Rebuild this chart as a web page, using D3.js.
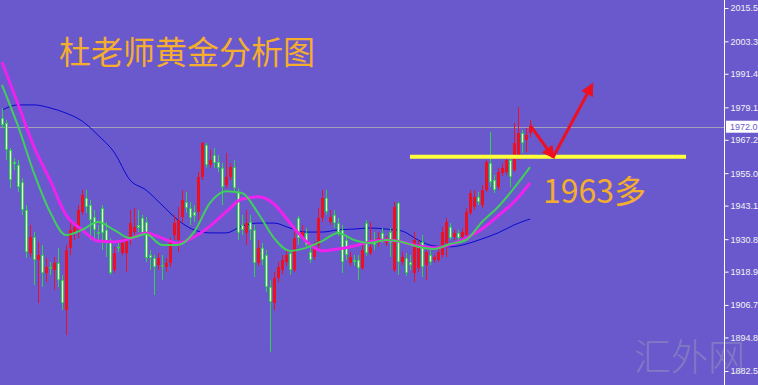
<!DOCTYPE html>
<html>
<head>
<meta charset="utf-8">
<script src="https://cdn.jsdelivr.net/npm/d3@7"></script>
<style>
  html, body { margin: 0; padding: 0; background: #6a59cc; }
  svg { display: block; }
</style>
</head>
<body>
<script>
// candle data, one row per bar: [open, high, low, close]
const ohlc = [
  [1975.2, 1978.8, 1971.5, 1972.6], [1973.4, 1974.5, 1959.8, 1963.5], [1963.5, 1964.2, 1949.5, 1952.5],
  [1959.1, 1960.5, 1956.1, 1958.3], [1958.0, 1959.8, 1948.1, 1949.9], [1951.7, 1953.2, 1939.7, 1941.5],
  [1941.5, 1943.3, 1923.9, 1926.1], [1925.7, 1936.0, 1924.3, 1931.6], [1931.6, 1933.4, 1914.0, 1923.2],
  [1923.2, 1929.8, 1907.4, 1925.0], [1925.0, 1928.7, 1913.3, 1918.4], [1918.4, 1923.9, 1915.1, 1920.6],
  [1920.6, 1922.4, 1917.7, 1920.2], [1919.5, 1924.3, 1912.2, 1922.1], [1922.1, 1927.6, 1913.3, 1915.8],
  [1915.8, 1917.7, 1904.8, 1907.4], [1904.8, 1928.7, 1895.7, 1926.8], [1927.6, 1937.1, 1925.0, 1934.2],
  [1933.1, 1937.1, 1930.5, 1935.3], [1934.2, 1943.3, 1931.2, 1941.5], [1940.8, 1948.8, 1939.7, 1947.0],
  [1945.9, 1948.8, 1940.4, 1942.6], [1943.3, 1945.2, 1930.5, 1937.8], [1938.9, 1941.5, 1930.5, 1934.2],
  [1933.4, 1936.0, 1930.5, 1932.7], [1942.2, 1943.3, 1926.8, 1933.1], [1934.2, 1937.1, 1924.3, 1929.8],
  [1929.8, 1931.2, 1917.7, 1918.4], [1919.5, 1928.0, 1918.4, 1925.7], [1928.0, 1929.4, 1926.1, 1927.6],
  [1925.7, 1931.2, 1925.0, 1929.4], [1925.7, 1932.0, 1918.8, 1930.5], [1930.5, 1941.5, 1928.7, 1936.7],
  [1933.4, 1942.2, 1932.3, 1935.3], [1936.0, 1941.5, 1933.4, 1934.9], [1938.6, 1939.7, 1932.0, 1933.1],
  [1937.1, 1938.9, 1922.4, 1923.9], [1925.0, 1926.8, 1919.5, 1923.9], [1923.9, 1925.0, 1910.3, 1920.6],
  [1921.3, 1925.7, 1919.5, 1923.9], [1921.3, 1925.0, 1915.8, 1921.0], [1920.6, 1923.9, 1918.8, 1922.1],
  [1922.1, 1931.2, 1920.6, 1930.5], [1932.3, 1939.7, 1930.5, 1936.7], [1930.5, 1942.6, 1926.1, 1937.8],
  [1938.9, 1948.8, 1937.1, 1945.2], [1944.4, 1948.1, 1940.4, 1942.2], [1942.2, 1944.4, 1936.0, 1938.6],
  [1940.8, 1943.3, 1937.1, 1939.3], [1940.8, 1955.4, 1937.8, 1953.6], [1953.6, 1966.4, 1952.5, 1966.0],
  [1965.3, 1966.0, 1956.9, 1958.0], [1958.0, 1963.5, 1956.9, 1959.8], [1961.6, 1964.2, 1956.9, 1958.7],
  [1959.1, 1961.6, 1955.4, 1956.9], [1956.9, 1958.7, 1943.3, 1949.9], [1950.6, 1962.4, 1949.5, 1953.6],
  [1953.6, 1958.7, 1952.5, 1957.2], [1957.2, 1959.8, 1948.1, 1949.5], [1948.1, 1949.5, 1930.5, 1933.1],
  [1936.0, 1939.7, 1932.3, 1934.2], [1933.1, 1941.5, 1928.7, 1936.7], [1937.1, 1939.7, 1930.5, 1934.2],
  [1934.2, 1936.0, 1916.9, 1922.1], [1922.1, 1930.5, 1921.0, 1927.6], [1927.6, 1929.4, 1921.3, 1923.2],
  [1925.0, 1926.8, 1911.4, 1913.3], [1913.3, 1915.8, 1889.5, 1907.8], [1907.4, 1918.8, 1904.8, 1916.6],
  [1916.6, 1922.4, 1915.1, 1920.6], [1919.5, 1925.0, 1918.0, 1923.2], [1922.4, 1926.8, 1921.0, 1925.0],
  [1925.7, 1926.8, 1917.7, 1919.5], [1919.5, 1934.9, 1918.8, 1931.2], [1938.6, 1939.3, 1928.7, 1931.2],
  [1931.2, 1936.0, 1930.5, 1933.4], [1933.1, 1934.9, 1927.6, 1928.7], [1926.1, 1928.7, 1922.1, 1923.2],
  [1924.3, 1929.8, 1923.2, 1928.0], [1928.7, 1942.2, 1926.8, 1938.6], [1938.6, 1948.8, 1937.1, 1945.9],
  [1945.9, 1948.8, 1939.7, 1940.8], [1937.1, 1941.5, 1936.0, 1938.9], [1939.7, 1941.5, 1934.9, 1936.7],
  [1936.7, 1938.6, 1932.0, 1933.1], [1934.2, 1936.0, 1918.4, 1922.4], [1930.5, 1932.3, 1923.2, 1925.0],
  [1922.1, 1926.1, 1921.0, 1924.3], [1923.2, 1925.0, 1921.0, 1922.4], [1923.2, 1925.0, 1915.8, 1920.2],
  [1920.2, 1928.7, 1919.5, 1926.8], [1936.7, 1937.8, 1924.6, 1925.7], [1925.7, 1937.1, 1925.0, 1928.0],
  [1930.5, 1933.4, 1926.8, 1928.7], [1929.4, 1933.4, 1928.0, 1931.2], [1933.1, 1934.9, 1929.4, 1930.5],
  [1929.4, 1932.0, 1928.3, 1930.5], [1933.4, 1934.9, 1924.3, 1929.4], [1919.5, 1944.4, 1918.8, 1942.6],
  [1944.1, 1944.4, 1917.7, 1922.4], [1922.4, 1926.1, 1921.3, 1924.3], [1923.9, 1925.7, 1917.3, 1918.4],
  [1922.4, 1925.0, 1919.5, 1921.3], [1918.4, 1933.4, 1915.1, 1930.5], [1920.2, 1930.5, 1918.8, 1928.7],
  [1929.8, 1932.3, 1916.9, 1920.6], [1921.3, 1927.6, 1915.8, 1926.1], [1925.0, 1926.8, 1921.3, 1922.4],
  [1923.2, 1925.0, 1922.1, 1924.3], [1923.2, 1927.6, 1922.4, 1926.1], [1925.0, 1935.3, 1923.9, 1933.4],
  [1929.4, 1938.6, 1924.3, 1937.1], [1935.3, 1936.7, 1930.5, 1931.2], [1931.6, 1934.2, 1930.5, 1933.1],
  [1933.1, 1934.2, 1930.5, 1931.2], [1931.6, 1934.9, 1930.5, 1933.4], [1932.3, 1942.2, 1931.6, 1940.8],
  [1940.4, 1948.8, 1939.7, 1947.7], [1942.6, 1948.8, 1941.5, 1946.3], [1946.3, 1948.1, 1943.3, 1944.4],
  [1943.3, 1950.6, 1942.2, 1948.8], [1948.8, 1959.8, 1948.1, 1959.1], [1958.7, 1970.1, 1949.9, 1951.7],
  [1952.5, 1954.3, 1947.7, 1948.8], [1949.9, 1956.9, 1948.8, 1955.4], [1955.0, 1958.7, 1953.9, 1956.9],
  [1955.4, 1961.6, 1954.3, 1959.8], [1959.8, 1960.9, 1949.9, 1953.6], [1956.1, 1973.4, 1955.4, 1966.0],
  [1960.9, 1979.2, 1959.8, 1969.7], [1969.7, 1970.8, 1962.4, 1966.0], [1967.1, 1971.5, 1962.7, 1969.0],
  [1969.7, 1974.5, 1968.2, 1972.0]
];

// moving averages, read every 4th bar
const maStep = 4;
const maFast = [1987.3, 1972.3, 1955.0, 1940.8, 1932.3, 1934.2, 1937.1, 1934.2, 1931.2, 1932.7, 1928.7, 1928.7,
  1933.4, 1944.1, 1948.4, 1947.7, 1940.4, 1931.2, 1926.5, 1927.6, 1930.1, 1933.1, 1930.5, 1929.4, 1930.5, 1929.8,
  1928.0, 1927.2, 1929.0, 1930.5, 1937.1, 1942.6, 1949.5, 1957.2];
const maMid = [1995.7, 1980.3, 1964.6, 1952.5, 1939.7, 1934.2, 1930.1, 1929.8, 1930.9, 1933.1, 1931.2, 1929.4,
  1931.6, 1935.6, 1940.8, 1945.5, 1946.3, 1943.7, 1936.7, 1930.1, 1926.5, 1927.2, 1928.3, 1929.8, 1930.5, 1929.8,
  1928.3, 1927.6, 1928.7, 1931.2, 1934.5, 1939.3, 1944.4, 1951.4];
const maSlow = [1978.1, 1980.0, 1980.0, 1978.9, 1977.0, 1974.1, 1968.9, 1962.7, 1952.5, 1948.8, 1943.3, 1937.8,
  1934.2, 1933.1, 1933.1, 1935.6, 1936.7, 1936.7, 1934.9, 1933.4, 1933.4, 1934.2, 1934.5, 1934.9, 1934.5, 1933.8,
  1930.5, 1928.3, 1928.0, 1929.0, 1930.9, 1933.1, 1936.0, 1938.2];

// price axis
const tickVals = [2015.5, 2003.3, 1991.4, 1979.1, 1967.2, 1955.0, 1943.1, 1930.8, 1918.9, 1906.7, 1894.8, 1882.5];
const lastPrice = 1972.0;

// hand-drawn annotations (bar index, price)
const supportLevel = 1961.0;
const supportSpan = [102, 171];
const arrowPath = [[132, 1972.6], [137.8, 1960.9], [147.5, 1987.3]];

const titleText = "杜老师黄金分析图";
const noteText = "1963多";
const watermark = "汇外网";

const width = 758, height = 385, axisX = 724;
const bg = "#6a59cc";

const svg = d3.select("body").append("svg")
  .attr("width", width)
  .attr("height", height);

svg.append("rect").attr("width", width).attr("height", height).attr("fill", bg);

const y = d3.scaleLinear().domain([1882.5, 2015.5]).range([371, 8]);
const x = d3.scaleLinear().domain([0, ohlc.length - 1]).range([2, 530]);

// watermark sits behind everything
svg.append("text")
  .attr("x", 634).attr("y", 371)
  .attr("font-family", "Noto Sans CJK SC")
  .attr("font-weight", 300)
  .attr("font-size", 37)
  .attr("fill", "#8b84c2")
  .attr("opacity", 0.75)
  .text(watermark);

// last price line
svg.append("line")
  .attr("x1", 0).attr("x2", axisX)
  .attr("y1", Math.round(y(lastPrice)) + 0.5).attr("y2", Math.round(y(lastPrice)) + 0.5)
  .attr("stroke", "#a3a0b8").attr("stroke-width", 1);

// moving averages
const maLine = d3.line()
  .x((d, i) => x(i * maStep))
  .y(d => y(d))
  .curve(d3.curveMonotoneX);

svg.append("path").datum(maSlow).attr("d", maLine)
  .attr("fill", "none").attr("stroke", "#0a0ad0").attr("stroke-width", 1);

// candles
const bars = svg.append("g").selectAll("g")
  .data(ohlc)
  .join("g")
  .attr("transform", (d, i) => `translate(${Math.round(x(i))},0)`);

bars.append("line")
  .attr("x1", 0.5).attr("x2", 0.5)
  .attr("y1", d => y(d[1])).attr("y2", d => y(d[2]))
  .attr("stroke", d => d[3] >= d[0] ? "#ee1020" : "#2fd24a")
  .attr("stroke-width", 1);

bars.append("rect")
  .attr("x", -1).attr("width", 3)
  .attr("y", d => y(Math.max(d[0], d[3])))
  .attr("height", d => Math.max(1.5, Math.abs(y(d[0]) - y(d[3]))))
  .attr("fill", d => d[3] >= d[0] ? "#ee1020" : "#2fd24a");

bars.filter(d => d[3] < d[0]).append("rect")
  .attr("x", 0).attr("width", 1)
  .attr("y", d => y(d[0]) + 1)
  .attr("height", d => Math.max(0, y(d[3]) - y(d[0]) - 2))
  .attr("fill", "#f4ffe0");

svg.append("path").datum(maMid).attr("d", maLine)
  .attr("fill", "none").attr("stroke", "#ee22ee").attr("stroke-width", 3);

svg.append("path").datum(maFast).attr("d", maLine)
  .attr("fill", "none").attr("stroke", "#3fcf5a").attr("stroke-width", 2);

// support line
svg.append("line")
  .attr("x1", x(supportSpan[0])).attr("x2", x(supportSpan[1]))
  .attr("y1", y(supportLevel)).attr("y2", y(supportLevel))
  .attr("stroke", "#ffff3a").attr("stroke-width", 4);

// arrows
svg.append("defs").append("marker")
  .attr("id", "head")
  .attr("viewBox", "0 0 10 10")
  .attr("refX", 8).attr("refY", 5)
  .attr("markerUnits", "userSpaceOnUse")
  .attr("markerWidth", 13).attr("markerHeight", 13)
  .attr("orient", "auto")
  .append("path").attr("d", "M0,0 L10,5 L0,10 z").attr("fill", "#ee1020");

for (let k = 0; k < arrowPath.length - 1; k++) {
  svg.append("line")
    .attr("x1", x(arrowPath[k][0])).attr("y1", y(arrowPath[k][1]))
    .attr("x2", x(arrowPath[k + 1][0])).attr("y2", y(arrowPath[k + 1][1]))
    .attr("stroke", "#ee1020").attr("stroke-width", 3)
    .attr("marker-end", "url(#head)");
}

// texts
svg.append("text")
  .attr("x", 59).attr("y", 64)
  .attr("font-family", "Noto Sans CJK SC")
  .attr("font-size", 32)
  .attr("fill", "#f5ad2e")
  .text(titleText);

svg.append("text")
  .attr("x", 543).attr("y", 203)
  .attr("font-family", "Noto Sans CJK SC")
  .attr("font-size", 32)
  .attr("fill", "#f5ad2e")
  .text(noteText);

// right axis
svg.append("line")
  .attr("x1", axisX + 0.5).attr("x2", axisX + 0.5)
  .attr("y1", 0).attr("y2", height)
  .attr("stroke", "#ffffff");

const axis = svg.append("g")
  .attr("transform", `translate(${axisX + 0.5},0)`)
  .call(d3.axisRight(y).tickValues(tickVals).tickFormat(d3.format(".1f"))
    .tickSize(4).tickPadding(2).tickSizeOuter(0));

axis.select(".domain").remove();
axis.selectAll(".tick line").attr("stroke", "#ffffff");
axis.selectAll(".tick text")
  .attr("fill", "#f2f2f2")
  .attr("font-family", "Liberation Sans")
  .attr("font-size", 9);

// last price tag
const tag = svg.append("g").attr("transform", `translate(${axisX + 2},${y(lastPrice)})`);
tag.append("rect").attr("x", 0).attr("y", -6).attr("width", 40).attr("height", 12).attr("fill", "#ffffff");
tag.append("text")
  .attr("x", 4).attr("dy", "0.35em")
  .attr("font-family", "Liberation Sans").attr("font-size", 9)
  .attr("fill", bg)
  .text(d3.format(".1f")(lastPrice));
</script>
</body>
</html>
